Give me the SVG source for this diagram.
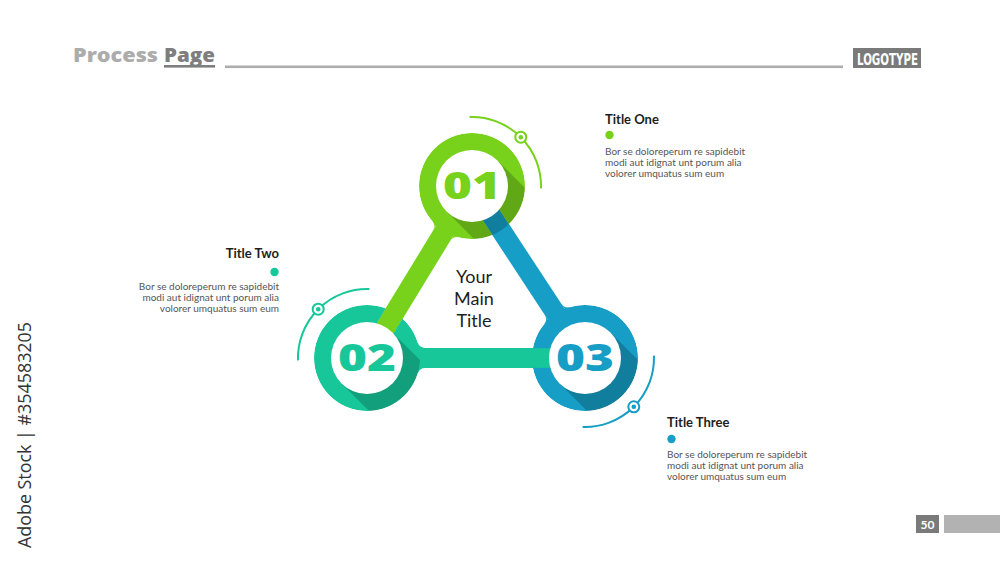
<svg xmlns="http://www.w3.org/2000/svg" width="1000" height="562" viewBox="0 0 1000 562">
<style>
.hdr{font-family:"Open Sans",Lato,"Liberation Sans",sans-serif;font-weight:800;font-size:20px}
.ttl{font-family:Lato,"Liberation Sans",sans-serif;font-weight:700;font-size:13px;fill:#1e1e1e}
.body{font-family:Lato,"Liberation Sans",sans-serif;font-size:10px;fill:#555}
.main{font-family:Lato,"Liberation Sans",sans-serif;font-size:18px;fill:#1e1e1e;text-anchor:middle}
.num{font-family:"Open Sans",Lato,"Liberation Sans",sans-serif;font-weight:800;font-size:37px;text-anchor:middle}
.arc{fill:none;stroke-width:2}
.mk{fill:#fff;stroke-width:2}
.shadow{fill:#000;fill-opacity:0.2}
.gf{fill:#78d21b}
.tf{fill:#17c79a}
.bf{fill:#169ec6}
.gs{stroke:#78d21b}
.ts{stroke:#17c79a}
.bs{stroke:#169ec6}
</style>
<defs>
<clipPath id="outer"><circle cx="0" cy="0" r="53"/></clipPath>
<path id="sh" d="M25.46,-25.46 L145.46,94.54 L94.54,145.46 L-25.46,25.46 Z"/>
<path id="fil" d="M50.64,-15.64 A8 8 0 0 0 58.28,-10 L44,-10 L44,10 L58.28,10 A8 8 0 0 0 50.64,15.64 Z"/>
<mask id="m01" maskUnits="userSpaceOnUse" x="-60" y="-60" width="120" height="120">
<circle cx="0" cy="0" r="53" fill="#fff"/>
<rect x="0" y="-9.8" width="70" height="19.6" fill="#000" transform="rotate(56.7)"/>
</mask>
<mask id="m02" maskUnits="userSpaceOnUse" x="-60" y="-60" width="120" height="120">
<circle cx="0" cy="0" r="53" fill="#fff"/>
<rect x="0" y="-9.8" width="70" height="19.6" fill="#000" transform="rotate(-58.6)"/>
</mask>
<mask id="m03" maskUnits="userSpaceOnUse" x="-60" y="-60" width="120" height="120">
<circle cx="0" cy="0" r="53" fill="#fff"/>
<rect x="0" y="-9.8" width="70" height="19.6" fill="#000" transform="rotate(180)"/>
</mask>
</defs>
<rect width="1000" height="562" fill="#fff"/>

<g id="header">
<text class="hdr" x="73" y="62" fill="#acacac"><tspan textLength="85" lengthAdjust="spacingAndGlyphs">Process</tspan> <tspan x="164" fill="#7e7e7e" textLength="51" lengthAdjust="spacingAndGlyphs">Page</tspan></text>
<rect x="164" y="65" width="51" height="2.6" fill="#7e7e7e"/>
<rect x="225" y="65.5" width="618" height="2.6" fill="#adadad"/>
<rect x="853" y="48" width="68" height="20" fill="#7a7a7a"/>
<text x="857" y="64.5" textLength="61" lengthAdjust="spacingAndGlyphs" font-family="'DejaVu Sans',sans-serif" font-stretch="condensed" font-weight="700" font-size="16" fill="#fff">LOGOTYPE</text>
</g>

<g id="connectors">
<g class="gf" transform="translate(472,186) rotate(121.4)">
<rect x="0" y="-10" width="201.5" height="20"/>
<use href="#fil"/>
</g>
<g class="tf" transform="translate(367,358)">
<rect x="0" y="-10" width="218" height="20"/>
<use href="#fil"/>
</g>
<g class="bf" transform="translate(585,358) rotate(-123.3)">
<rect x="0" y="-10" width="205.8" height="20"/>
<use href="#fil"/>
</g>
</g>

<g id="node-01" transform="translate(472,186)">
<path class="arc gs" d="M-2.4,-68.96 A69 69 0 0 1 68.96,2.4"/>
<circle class="mk gs" cx="48.8" cy="-48.8" r="5.5"/>
<circle class="gf" cx="48.8" cy="-48.8" r="2.3"/>
<circle class="gf" r="53" mask="url(#m01)"/>
<use href="#sh" class="shadow" clip-path="url(#outer)"/>
<circle r="36" fill="#fff"/>
<text class="num gf" y="13" textLength="58" lengthAdjust="spacingAndGlyphs">01</text>
</g>

<g id="node-02" transform="translate(367,358)">
<path class="arc ts" d="M2.4,-68.96 A69 69 0 0 0 -68.96,2.4"/>
<circle class="mk ts" cx="-48.8" cy="-48.8" r="5.5"/>
<circle class="tf" cx="-48.8" cy="-48.8" r="2.3"/>
<circle class="tf" r="53" mask="url(#m02)"/>
<use href="#sh" class="shadow" clip-path="url(#outer)"/>
<circle r="36" fill="#fff"/>
<text class="num tf" y="13" textLength="58" lengthAdjust="spacingAndGlyphs">02</text>
</g>

<g id="node-03" transform="translate(585,358)">
<path class="arc bs" d="M68.96,-2.4 A69 69 0 0 1 -2.4,68.96"/>
<circle class="mk bs" cx="48.8" cy="48.8" r="5.5"/>
<circle class="bf" cx="48.8" cy="48.8" r="2.3"/>
<circle class="bf" r="53" mask="url(#m03)"/>
<use href="#sh" class="shadow" clip-path="url(#outer)"/>
<circle r="36" fill="#fff"/>
<text class="num bf" y="13" textLength="58" lengthAdjust="spacingAndGlyphs">03</text>
</g>

<g id="main-title">
<text class="main" x="474" y="283">Your</text>
<text class="main" x="474" y="305">Main</text>
<text class="main" x="474" y="327">Title</text>
</g>

<g id="label-one">
<text class="ttl" x="605" y="124">Title One</text>
<circle cx="609.5" cy="135" r="4.2" fill="#78d21b"/>
<text class="body" x="605" y="155">Bor se doloreperum re sapidebit</text>
<text class="body" x="605" y="166">modi aut idignat unt porum alia</text>
<text class="body" x="605" y="177">volorer umquatus sum eum</text>
</g>

<g id="label-two">
<text class="ttl" x="279" y="258" text-anchor="end">Title Two</text>
<circle cx="274.5" cy="272" r="4.2" fill="#17c79a"/>
<text class="body" x="279" y="290" text-anchor="end">Bor se doloreperum re sapidebit</text>
<text class="body" x="279" y="301" text-anchor="end">modi aut idignat unt porum alia</text>
<text class="body" x="279" y="312" text-anchor="end">volorer umquatus sum eum</text>
</g>

<g id="label-three">
<text class="ttl" x="667" y="427">Title Three</text>
<circle cx="671.5" cy="439" r="4.2" fill="#169ec6"/>
<text class="body" x="667" y="458">Bor se doloreperum re sapidebit</text>
<text class="body" x="667" y="469">modi aut idignat unt porum alia</text>
<text class="body" x="667" y="480">volorer umquatus sum eum</text>
</g>

<g id="footer">
<rect x="916" y="515" width="23" height="18" fill="#7a7a7a"/>
<text x="927.5" y="528.5" text-anchor="middle" font-family="Lato,'Liberation Sans',sans-serif" font-weight="700" font-size="12" fill="#fff">50</text>
<rect x="944" y="515" width="56" height="18" fill="#b2b2b2"/>
</g>

<text transform="translate(31,548) rotate(-90)" textLength="226" lengthAdjust="spacingAndGlyphs" font-family="'Open Sans','Liberation Sans',sans-serif" font-size="18" fill="#333">Adobe Stock | #354583205</text>
</svg>
